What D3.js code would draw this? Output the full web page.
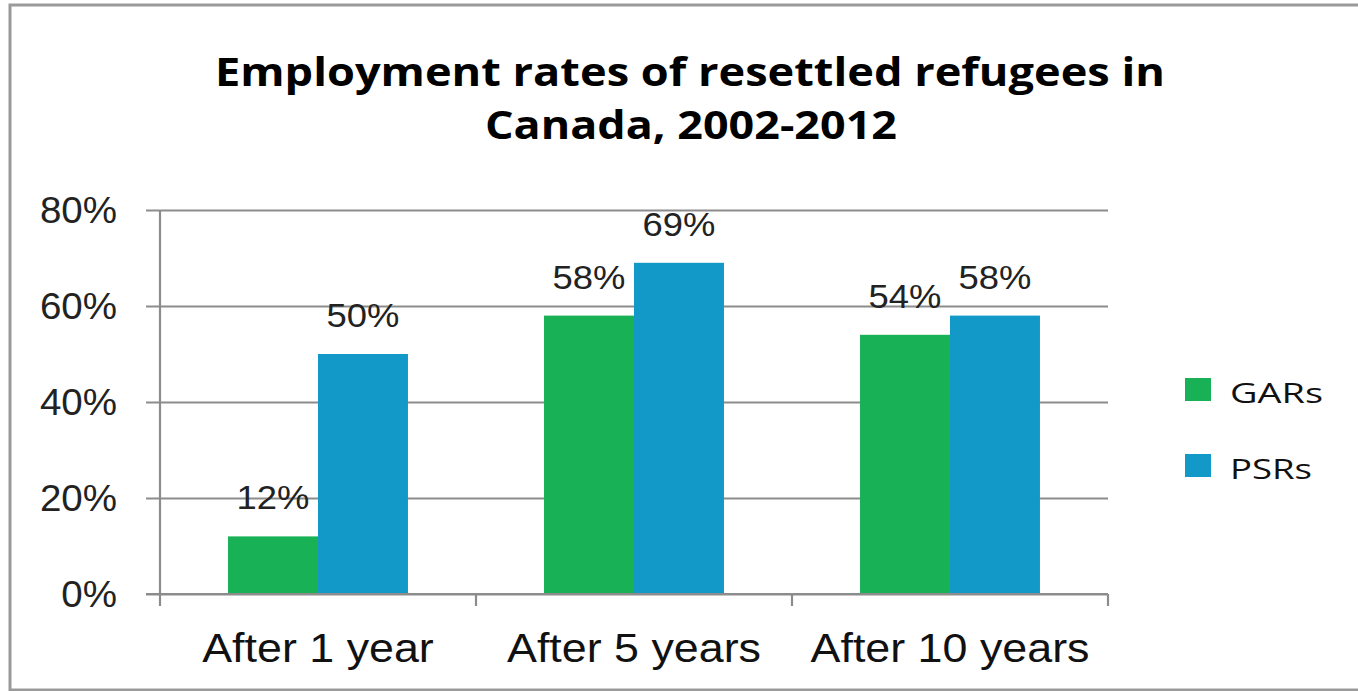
<!DOCTYPE html>
<html>
<head>
<meta charset="utf-8">
<script src="https://cdn.jsdelivr.net/npm/d3@7/dist/d3.min.js"></script>
<style>
  html, body { margin: 0; padding: 0; background: #fff; }
  svg { display: block; }
</style>
</head>
<body>
<svg id="chart" width="1358" height="691"></svg>
<script>
// ---- Data ----
const categories = ["After 1 year", "After 5 years", "After 10 years"];
const seriesNames = ["GARs", "PSRs"];
const garValues = [0.12, 0.58, 0.54];
const psrValues = [0.50, 0.69, 0.58];
const yTickValues = [0, 0.2, 0.4, 0.6, 0.8];
const titleLines = ["Employment rates of resettled refugees in", "Canada, 2002-2012"];
const seriesColors = ["#19b156", "#1399c7"];

const seriesValues = [garValues, psrValues];

const svg = d3.select("#chart");
const W = 1358, H = 691;

// frame
svg.append("rect").attr("x", 10).attr("y", 5).attr("width", W).attr("height", H - 6)
  .attr("fill", "#fff").attr("stroke", "#9a9a9a").attr("stroke-width", 3);

const plot = { left: 160, right: 1108, top: 210, bottom: 594 };

const x = d3.scaleBand().domain(categories).range([plot.left, plot.right]).paddingInner(0).paddingOuter(0);
const x1 = d3.scaleBand().domain(seriesNames).range([0, x.bandwidth()]).paddingInner(0).paddingOuter(0.756);
const y = d3.scaleLinear().domain([0, 0.8]).range([plot.bottom, plot.top]);

function stretch(sel, factor) {
  sel.each(function () {
    const len = this.getComputedTextLength();
    d3.select(this).attr("textLength", len * factor).attr("lengthAdjust", "spacingAndGlyphs");
  });
}
function fitWidth(sel, width) {
  sel.attr("textLength", width).attr("lengthAdjust", "spacingAndGlyphs");
}

// title
const title = svg.append("g").attr("font-family", "'Open Sans', 'DejaVu Sans', sans-serif")
  .attr("font-weight", "bold").attr("fill", "#000").attr("text-anchor", "middle");
const t1 = title.append("text").attr("x", 690).attr("y", 86).attr("font-size", 39).text(titleLines[0]);
fitWidth(t1, 950);
const t2 = title.append("text").attr("x", 691).attr("y", 139).attr("font-size", 39).text(titleLines[1]);
fitWidth(t2, 412);

// y gridlines + labels
const yAxis = d3.axisLeft(y).tickValues(yTickValues).tickFormat(d3.format(".0%"))
  .tickSize(-(plot.right - 146)).tickPadding(29);
const gy = svg.append("g").attr("transform", `translate(146,0)`).call(yAxis);
gy.select(".domain").remove();
gy.selectAll(".tick line").attr("stroke", "#8c8c8c").attr("stroke-width", 2.2);
gy.selectAll(".tick text").attr("font-family", "'Liberation Sans', Arial, sans-serif")
  .attr("font-size", 36).attr("fill", "#222").attr("dy", "0.36em");
stretch(gy.selectAll(".tick text"), 1.07);

// y axis line
svg.append("line").attr("x1", plot.left).attr("x2", plot.left).attr("y1", plot.top).attr("y2", plot.bottom)
  .attr("stroke", "#8c8c8c").attr("stroke-width", 2.2);

// bars
const groups = svg.append("g").selectAll("g").data(categories).join("g")
  .attr("transform", c => `translate(${x(c)},0)`);
groups.selectAll("rect").data((c, i) => seriesNames.map((s, k) => ({ s, k, v: seriesValues[k][i] })))
  .join("rect")
  .attr("x", d => x1(d.s)).attr("width", x1.bandwidth())
  .attr("y", d => y(d.v)).attr("height", d => y(0) - y(d.v))
  .attr("fill", d => seriesColors[d.k]);

// x axis line (over bars bottom)
svg.append("line").attr("x1", 146).attr("x2", plot.right).attr("y1", plot.bottom).attr("y2", plot.bottom)
  .attr("stroke", "#8c8c8c").attr("stroke-width", 2.2);

// x tick marks at band boundaries
const boundaries = categories.map(c => x(c)).concat([x(categories[categories.length - 1]) + x.bandwidth()]);
svg.append("g").selectAll("line").data(boundaries).join("line")
  .attr("x1", d => d).attr("x2", d => d).attr("y1", plot.bottom).attr("y2", plot.bottom + 12)
  .attr("stroke", "#8c8c8c").attr("stroke-width", 2.2);

// x labels via axis
const xAxis = d3.axisBottom(x).tickSize(0).tickPadding(0);
const gx = svg.append("g").attr("transform", `translate(0,${plot.bottom})`).call(xAxis);
gx.select(".domain").remove();
gx.selectAll(".tick text").attr("font-family", "'Liberation Sans', Arial, sans-serif")
  .attr("font-size", 40).attr("fill", "#111").attr("dy", null).attr("y", 68);
stretch(gx.selectAll(".tick text"), 1.12);

// data labels
const labels = groups.selectAll("text.dl").data((c, i) => seriesNames.map((s, k) => ({ s, k, v: seriesValues[k][i] })))
  .join("text").attr("class", "dl")
  .attr("x", d => x1(d.s) + x1.bandwidth() / 2)
  .attr("y", d => y(d.v) - 27)
  .attr("text-anchor", "middle")
  .attr("font-family", "'Liberation Sans', Arial, sans-serif")
  .attr("font-size", 34).attr("fill", "#222")
  .text(d => d3.format(".0%")(d.v));
stretch(labels, 1.07);

// legend
const legend = svg.append("g");
const legY = [378, 454];
seriesNames.forEach((s, k) => {
  legend.append("rect").attr("x", 1185).attr("y", legY[k]).attr("width", 26).attr("height", 23)
    .attr("fill", seriesColors[k]);
  const t = legend.append("text").attr("x", 1230).attr("y", legY[k] + 25)
    .attr("font-family", "'Open Sans', 'Liberation Sans', sans-serif").attr("font-size", 28)
    .attr("fill", "#111").text(s);
  fitWidth(t, k === 0 ? 93 : 82);
});
</script>
</body>
</html>
